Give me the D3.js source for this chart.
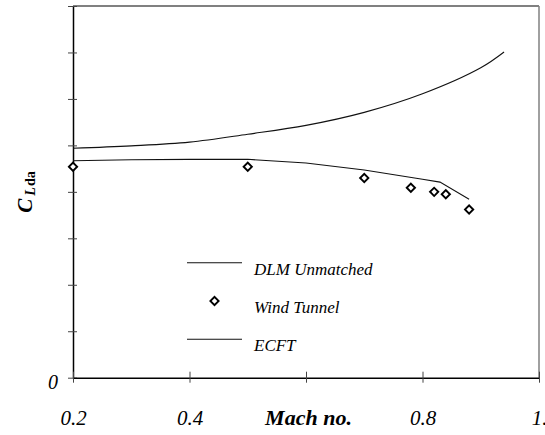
<!DOCTYPE html>
<html>
<head>
<meta charset="utf-8">
<script src="https://cdn.jsdelivr.net/npm/d3@7"></script>
<style>
  body { margin: 0; background: #fff; }
  svg { display: block; font-family: "Liberation Serif", "Times New Roman", serif; }
</style>
</head>
<body>
<svg width="545" height="435"></svg>
<script>
const svg = d3.select("svg");

// data
const machTicks = [0.2, 0.4, 0.6, 0.8, 1.0];
const machLabels = ["0.2", "0.4", "Mach no.", "0.8", "1."];
const yTicks = [0, 1, 2, 3, 4, 5, 6, 7, 8];

const ecftMach = [0.2, 0.3, 0.4, 0.5, 0.6, 0.7, 0.8, 0.9, 0.94];
const ecftCL   = [4.94, 4.99, 5.07, 5.24, 5.43, 5.71, 6.11, 6.67, 7.01];

const dlmMach = [0.2, 0.3, 0.4, 0.5, 0.6, 0.7, 0.8, 0.83, 0.88];
const dlmCL   = [4.67, 4.69, 4.70, 4.70, 4.62, 4.47, 4.27, 4.21, 3.84];

const windMach = [0.2, 0.5, 0.7, 0.78, 0.82, 0.84, 0.88];
const windCL   = [4.54, 4.54, 4.30, 4.09, 4.00, 3.95, 3.62];

const legendNames = ["DLM Unmatched", "Wind Tunnel", "ECFT"];

const mLeft = 73, mRight = 539, mTop = 6, mBottom = 377.7;

const x = d3.scaleLinear().domain([0.2, 1.0]).range([mLeft, mRight]);
const y = d3.scaleLinear().domain([0, 8]).range([mBottom, mTop]);

// frame: top and right in gray
svg.append("line")
    .attr("x1", mLeft).attr("x2", mRight)
    .attr("y1", mTop).attr("y2", mTop)
    .attr("stroke", "#808080").attr("stroke-width", 2);
svg.append("line")
    .attr("x1", mRight).attr("x2", mRight)
    .attr("y1", mTop).attr("y2", mBottom)
    .attr("stroke", "#808080").attr("stroke-width", 1.5);

// y axis, ticks crossing the line
const yAxis = svg.append("g")
    .attr("transform", `translate(${mLeft},0)`)
    .call(d3.axisLeft(y).tickValues(yTicks).tickFormat(d => d === 0 ? "0" : "").tickSize(0).tickPadding(15));
yAxis.select(".domain").attr("stroke", "#000").attr("stroke-width", 1.5);
yAxis.selectAll(".tick line").attr("x1", -5).attr("x2", 4).attr("stroke", "#444");
yAxis.selectAll(".tick text")
    .attr("font-family", "Liberation Serif").attr("font-style", "italic")
    .attr("font-size", 20).attr("fill", "#000").attr("dy", "0.55em");

// x axis
const xAxis = svg.append("g")
    .attr("transform", `translate(0,${mBottom})`)
    .call(d3.axisBottom(x).tickValues(machTicks).tickFormat((d, i) => machLabels[i]).tickSize(0).tickPadding(32));
xAxis.select(".domain").attr("stroke", "#000").attr("stroke-width", 1.5);
xAxis.selectAll(".tick line").attr("y1", -6).attr("y2", 5).attr("stroke", "#444");
xAxis.selectAll(".tick text")
    .attr("font-family", "Liberation Serif").attr("font-style", "italic")
    .attr("font-size", (d, i) => machLabels[i] === "Mach no." ? 22 : 21).attr("fill", "#000")
    .attr("font-weight", (d, i) => machLabels[i] === "Mach no." ? "bold" : "normal")
    .attr("dx", (d, i) => machLabels[i] === "Mach no." ? 2 : 0);

// curves
const smooth = d3.line().curve(d3.curveCatmullRom).x(d => x(d[0])).y(d => y(d[1]));
const straight = d3.line().x(d => x(d[0])).y(d => y(d[1]));
svg.append("path")
    .datum(d3.zip(ecftMach, ecftCL))
    .attr("d", smooth).attr("fill", "none").attr("stroke", "#111").attr("stroke-width", 1.1);
svg.append("path")
    .datum(d3.zip(dlmMach, dlmCL))
    .attr("d", straight).attr("fill", "none").attr("stroke", "#111").attr("stroke-width", 1.1);

// wind tunnel diamonds
const diamond = d3.symbol().type(d3.symbolSquare).size(34);
svg.append("g").selectAll("path")
    .data(d3.zip(windMach, windCL))
    .enter().append("path")
    .attr("d", diamond)
    .attr("transform", d => `translate(${x(d[0])},${y(d[1])}) rotate(45)`)
    .attr("fill", "#fff").attr("stroke", "#000").attr("stroke-width", 1.9);

// legend
const legY = [262.7, 301, 339.3];
const leg = svg.append("g");
leg.append("line").attr("x1", 187).attr("x2", 242).attr("y1", legY[0]).attr("y2", legY[0])
    .attr("stroke", "#111").attr("stroke-width", 1.1);
leg.append("path").attr("d", diamond)
    .attr("transform", `translate(214.5,${legY[1]}) rotate(45)`)
    .attr("fill", "#fff").attr("stroke", "#000").attr("stroke-width", 1.9);
leg.append("line").attr("x1", 187).attr("x2", 242).attr("y1", legY[2]).attr("y2", legY[2])
    .attr("stroke", "#111").attr("stroke-width", 1.1);
leg.selectAll("text")
    .data(legendNames)
    .enter().append("text")
    .attr("x", 254)
    .attr("y", (d, i) => legY[i] + 12)
    .attr("font-style", "italic")
    .attr("font-size", 17)
    .text(d => d);

// y title
const yt = svg.append("text")
    .attr("transform", "translate(32,192) rotate(-90)")
    .attr("text-anchor", "middle")
    .attr("font-weight", "bold");
yt.append("tspan").attr("font-style", "italic").attr("font-size", 21).text("C");
yt.append("tspan").attr("font-style", "italic").attr("font-size", 14).attr("dx", 3).attr("dy", 3).text("L");
yt.append("tspan").attr("font-size", 14).attr("dx", 1).text("da");
</script>
</body>
</html>
